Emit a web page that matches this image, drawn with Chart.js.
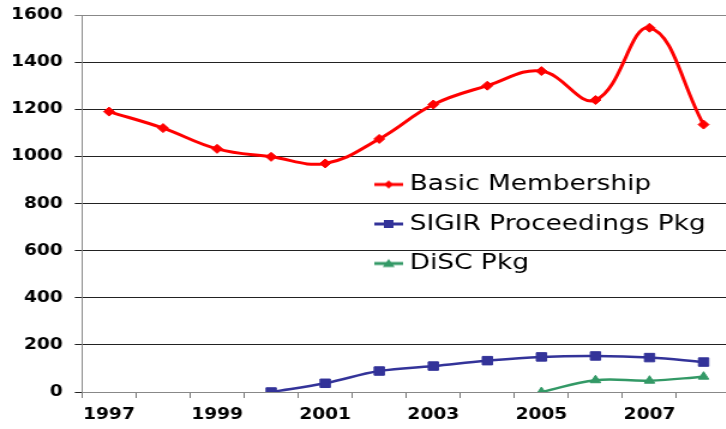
<!DOCTYPE html>
<html>
<head>
<meta charset="utf-8">
<script src="https://cdn.jsdelivr.net/npm/chart.js@4.4.0/dist/chart.umd.min.js"></script>
<style>
    html, body { margin: 0; padding: 0; background: #fff; overflow: hidden; }
</style>
</head>
<body>
<!-- the source picture is stretched sideways, so the canvas is too -->
<canvas id="chart" width="616" height="429" style="display:block; width:739.2px; height:429px;"></canvas>
<script>
var years = ['1997', '1998', '1999', '2000', '2001', '2002', '2003', '2004', '2005', '2006', '2007', '2008'];
var basicMembership = [1190, 1120, 1032, 998, 970, 1074, 1220, 1300, 1362, 1239, 1546, 1135];
var sigirProceedings = [null, null, null, 0, 37, 89, 110, 133, 149, 153, 146, 127];
var discPkg = [null, null, null, null, null, null, null, null, 0, 50, 48, 65];
var seriesNames = ['Basic Membership', 'SIGIR Proceedings Pkg', 'DiSC Pkg'];
var yTicks = [0, 200, 400, 600, 800, 1000, 1200, 1400, 1600];

(function() {
    "use strict";
    var tickFont = {family: 'DejaVu Sans', weight: 'bold', size: 15.5};

    // small line + marker picture for the legend
    var legendIcon = function(color, shape) {
        var c = document.createElement('canvas');
        c.width = 24;
        c.height = 14;
        var g = c.getContext('2d');
        g.strokeStyle = color;
        g.fillStyle = color;
        g.lineWidth = 3;
        g.beginPath();
        g.moveTo(0, 7);
        g.lineTo(24, 7);
        g.stroke();
        g.beginPath();
        if (shape === 'diamond') {
            g.moveTo(12, 3); g.lineTo(16, 7); g.lineTo(12, 11); g.lineTo(8, 7);
        } else if (shape === 'square') {
            g.rect(8, 3, 8, 8);
        } else {
            g.moveTo(12, 2.5); g.lineTo(17, 10.5); g.lineTo(7, 10.5);
        }
        g.closePath();
        g.fill();
        return c;
    };
    var icons = [legendIcon('#FF0000', 'diamond'), legendIcon('#333399', 'square'), legendIcon('#339966', 'triangle')];

    var legendPlacer = {
        id: 'legendPlacer',
        afterLayout: function(chart) {
            var lg = chart.legend;
            lg.left = 300;
            lg.top = 156;
            lg.right = lg.left + 400;
            lg.bottom = lg.top + 200;
        }
    };

    var ctx = document.getElementById('chart').getContext('2d');
    new Chart(ctx, {
        type: 'line',
        data: {
            labels: years,
            datasets: [{
                label: seriesNames[0],
                data: basicMembership,
                borderColor: '#FF0000',
                backgroundColor: '#FF0000',
                borderWidth: 3,
                pointStyle: 'rectRot',
                pointRadius: 4.5,
                pointBorderWidth: 1,
                tension: 0.4
            }, {
                label: seriesNames[1],
                data: sigirProceedings,
                borderColor: '#333399',
                backgroundColor: '#333399',
                borderWidth: 2.5,
                pointStyle: 'rect',
                pointRadius: 6,
                pointBorderWidth: 1,
                tension: 0.4
            }, {
                label: seriesNames[2],
                data: discPkg,
                borderColor: '#339966',
                backgroundColor: '#339966',
                borderWidth: 2.5,
                pointStyle: 'triangle',
                pointRadius: 5,
                pointBorderWidth: 1,
                tension: 0.4
            }]
        },
        options: {
            responsive: false,
            animation: false,
            layout: {padding: {top: 15, right: 4.9, left: 0, bottom: 0}},
            plugins: {
                tooltip: {enabled: false},
                legend: {
                    position: 'chartArea',
                    align: 'start',
                    labels: {
                        usePointStyle: true,
                        pointStyleWidth: 13,
                        padding: 17.5,
                        color: '#000',
                        font: {family: 'DejaVu Sans', size: 22},
                        generateLabels: function(chart) {
                            return chart.data.datasets.map(function(ds, i) {
                                return {text: ds.label, pointStyle: icons[i], datasetIndex: i, fontColor: '#000', lineWidth: 0, strokeStyle: 'rgba(0,0,0,0)', fillStyle: 'rgba(0,0,0,0)'};
                            });
                        }
                    }
                }
            },
            scales: {
                x: {
                    offset: true,
                    grid: {offset: true, drawOnChartArea: false, drawTicks: true, tickLength: 6, color: '#777'},
                    border: {color: '#888', width: 1},
                    ticks: {
                        autoSkip: false,
                        maxRotation: 0,
                        padding: 8,
                        color: '#000',
                        font: tickFont,
                        callback: function(v, i) { return i % 2 === 0 ? years[i] : ''; }
                    },
                    afterFit: function(s) { s.height = 37; }
                },
                y: {
                    min: yTicks[0],
                    max: yTicks[yTicks.length - 1],
                    ticks: {
                        stepSize: 200,
                        padding: 10,
                        color: '#000',
                        font: tickFont,
                        callback: function(v) { return String(v); }
                    },
                    grid: {
                        tickLength: 6,
                        color: function(c) { return c.tick && c.tick.value === 1600 ? '#888' : '#222'; }
                    },
                    border: {color: '#888', width: 1},
                    afterFit: function(s) {
                        s.width = 68.33;
                        s.paddingTop = 0;
                        s.paddingBottom = 0;
                    }
                }
            }
        },
        plugins: [legendPlacer]
    });
})();
</script>
</body>
</html>
